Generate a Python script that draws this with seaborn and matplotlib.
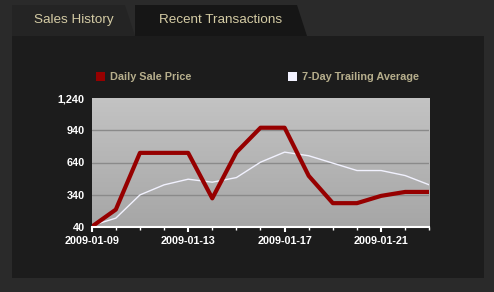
import numpy as np
import pandas as pd
import seaborn as sns
import matplotlib
matplotlib.use("Agg")
import matplotlib.pyplot as plt
import matplotlib.dates as mdates
from matplotlib.patches import Polygon, Rectangle
from matplotlib.ticker import FuncFormatter, FixedLocator
from matplotlib.colors import LinearSegmentedColormap

# ---- data ----
dates = pd.date_range("2009-01-09", "2009-01-23", freq="D")
daily_sale_price = [40, 200, 730, 730, 730, 305, 735, 965, 965, 515, 260, 260, 328, 365, 365]
trailing_avg_7d = [50, 120, 337, 431, 484, 456, 499, 643, 737, 703, 634, 565, 565, 518, 431]
y_ticks = [40, 340, 640, 940, 1240]
x_label_days = [9, 13, 17, 21]
tab_labels = ["Sales History", "Recent Transactions"]
series_labels = ["Daily Sale Price", "7-Day Trailing Average"]

df = pd.DataFrame({"date": dates, "price": daily_sale_price, "avg": trailing_avg_7d})

sns.set_theme(style="white")
plt.rcParams["font.family"] = ["Liberation Sans", "DejaVu Sans"]

W, H = 494, 292
fig = plt.figure(figsize=(W / 100, H / 100), dpi=100)
fig.patch.set_facecolor("#2a2a2a")

def fx(x):
    return x / W

def fy(y):
    return 1 - y / H

def poly(pts, color, z=-5):
    p = Polygon([(fx(x), fy(y)) for x, y in pts], closed=True, transform=fig.transFigure,
                facecolor=color, edgecolor="none", zorder=z)
    fig.patches.append(p)

# panel and tabs
poly([(12, 36), (484, 36), (484, 278), (12, 278)], "#1c1c1c")
poly([(135, 5), (297, 5), (307, 36), (135, 36)], "#161616")
poly([(12, 5), (125, 5), (135, 36), (12, 36)], "#242424")
fig.text(fx(74), fy(20), tab_labels[0], color="#d4cba4", fontsize=9.7, ha="center", va="center")
fig.text(fx(221), fy(20), tab_labels[1], color="#d4cba4", fontsize=9.7, ha="center", va="center")

# legend
red = "#960000"
leg_col = "#b6ae8c"
fig.patches.append(Rectangle((fx(96), fy(81)), fx(9), 9 / H, transform=fig.transFigure,
                             facecolor=red, edgecolor="none", zorder=-1))
fig.text(fx(110), fy(77), series_labels[0], color=leg_col, fontsize=7.8, fontweight="bold",
         ha="left", va="center")
fig.patches.append(Rectangle((fx(288), fy(81)), fx(9), 9 / H, transform=fig.transFigure,
                             facecolor="#f2f2ff", edgecolor="none", zorder=-1))
fig.text(fx(302), fy(77), series_labels[1], color=leg_col, fontsize=7.8, fontweight="bold",
         ha="left", va="center")

# axes
left, right, top, bottom = 91.7, 429.3, 98.3, 226.7
ax = fig.add_axes([fx(left), fy(bottom), fx(right - left), (bottom - top) / H])
ax.set_zorder(5)
ax.set_facecolor("none")
grad = np.linspace(0, 1, 256).reshape(-1, 1)
cmap = LinearSegmentedColormap.from_list("g", ["#c3c3c3", "#a6a6a6"])
ax.imshow(grad, cmap=cmap, aspect="auto", extent=[0, 1, 0, 1], transform=ax.transAxes, zorder=0)

for v in y_ticks[1:-1]:
    ax.axhline(v, color="#8a8a8a", lw=1.0, zorder=1)

sns.lineplot(data=df, x="date", y="avg", ax=ax, color="#f2f2ff", lw=1.0, zorder=3)
sns.lineplot(data=df, x="date", y="price", ax=ax, color=red, lw=3.0, zorder=4)

ax.set_xlim(dates[0], dates[-1])
ax.set_ylim(y_ticks[0], y_ticks[-1])
ax.yaxis.set_major_locator(FixedLocator(y_ticks))
ax.yaxis.set_major_formatter(FuncFormatter(lambda v, p: f"{int(v):,}"))
ax.xaxis.set_major_locator(mdates.DayLocator(bymonthday=x_label_days))
ax.xaxis.set_minor_locator(mdates.DayLocator())
ax.xaxis.set_major_formatter(mdates.DateFormatter("%Y-%m-%d"))
ax.set_xlabel("")
ax.set_ylabel("")

for s in ["top", "left", "right"]:
    ax.spines[s].set_visible(False)
ax.spines["bottom"].set_color("white")
ax.spines["bottom"].set_linewidth(1.5)
ax.spines["bottom"].set_zorder(5)

ax.tick_params(axis="x", which="major", direction="out", length=3.5, width=1.5, color="white",
               labelcolor="white", labelsize=7.8, pad=3, bottom=True)
ax.tick_params(axis="x", which="minor", direction="out", length=2.5, width=1.0, color="white",
               bottom=True)
ax.tick_params(axis="y", which="major", length=0, labelcolor="white", labelsize=7.8, pad=5)
for lab in ax.get_xticklabels() + ax.get_yticklabels():
    lab.set_fontweight("bold")

fig.savefig("out.png", dpi=100, facecolor=fig.get_facecolor())
